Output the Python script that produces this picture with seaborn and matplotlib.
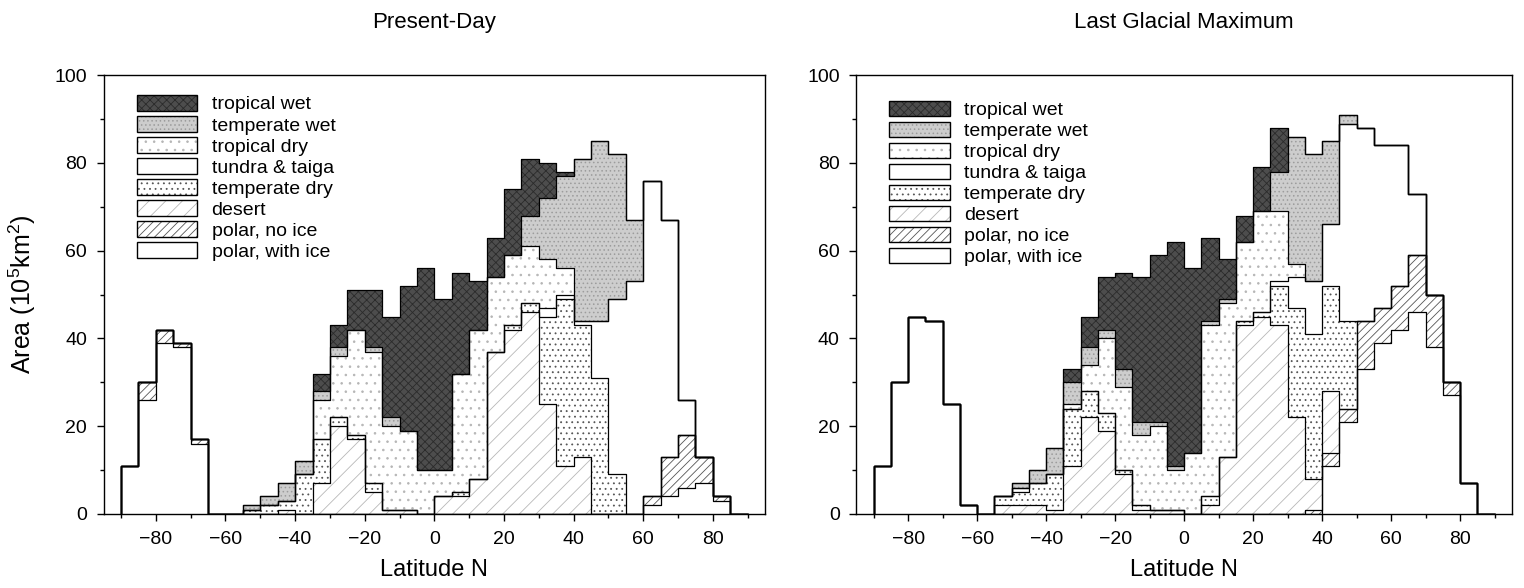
import numpy as np
import matplotlib
matplotlib.use("Agg")
import matplotlib.pyplot as plt
from matplotlib.patches import Patch
from matplotlib.ticker import MultipleLocator
import seaborn as sns

# === DATA: area per 5 degree latitude bin (left edges -90 ... 85), 10^5 km^2
# each list = thickness of the band in the stack, grouped 6 bins (30 deg) per row
lat_edges = np.arange(-90, 95, 5)

categories = ["polar, with ice", "polar, no ice", "desert", "temperate dry",
              "tundra & taiga", "tropical dry", "temperate wet", "tropical wet"]

pd_polar_ice = [11, 26, 39, 38, 16, 0,  0, 0, 0, 0, 0, 0,  0, 0, 0, 0, 0, 0,
                0, 0, 0, 0, 0, 0,  0, 0, 0, 0, 0, 0,  2, 4, 6, 7, 3, 0]
pd_polar_noice = [0, 4, 3, 1, 1, 0,  0, 0, 0, 0, 0, 0,  0, 0, 0, 0, 0, 0,
                  0, 0, 0, 0, 0, 0,  0, 0, 0, 0, 0, 0,  2, 9, 12, 6, 1, 0]
pd_desert = [0, 0, 0, 0, 0, 0,  0, 0, 0, 1, 0, 7,  20, 17, 5, 1, 1, 0,
             4, 4, 8, 37, 42, 46,  25, 11, 13, 0, 0, 0,  0, 0, 0, 0, 0, 0]
pd_temp_dry = [0, 0, 0, 0, 0, 0,  0, 1, 2, 2, 9, 10,  2, 1, 2, 0, 0, 0,
               0, 1, 0, 0, 1, 2,  20, 38, 30, 31, 9, 0,  0, 0, 0, 0, 0, 0]
pd_tundra = [0, 0, 0, 0, 0, 0,  0, 0, 0, 0, 0, 0,  0, 0, 0, 0, 0, 0,
             0, 0, 0, 0, 0, 0,  2, 1, 1, 13, 40, 53,  72, 54, 8, 0, 0, 0]
pd_trop_dry = [0, 0, 0, 0, 0, 0,  0, 0, 0, 0, 0, 9,  14, 24, 30, 19, 18, 10,
               6, 27, 34, 17, 16, 13,  11, 6, 0, 0, 0, 0,  0, 0, 0, 0, 0, 0]
pd_temp_wet = [0, 0, 0, 0, 0, 0,  0, 1, 2, 4, 3, 2,  2, 0, 1, 2, 0, 0,
               0, 0, 0, 0, 0, 7,  14, 21, 37, 41, 33, 14,  0, 0, 0, 0, 0, 0]
pd_trop_wet = [0, 0, 0, 0, 0, 0,  0, 0, 0, 0, 0, 4,  5, 9, 13, 23, 33, 46,
               39, 23, 11, 9, 15, 13,  8, 1, 0, 0, 0, 0,  0, 0, 0, 0, 0, 0]

lgm_polar_ice = [11, 30, 45, 44, 25, 2,  0, 0, 0, 0, 0, 0,  0, 0, 0, 0, 0, 0,
                 0, 0, 0, 0, 0, 0,  0, 0, 11, 21, 33, 39,  42, 46, 38, 27, 7, 0]
lgm_polar_noice = [0, 0, 0, 0, 0, 0,  0, 0, 0, 0, 0, 0,  0, 0, 0, 0, 0, 0,
                   0, 0, 0, 0, 0, 0,  0, 1, 3, 3, 11, 8,  10, 13, 12, 3, 0, 0]
lgm_desert = [0, 0, 0, 0, 0, 0,  0, 2, 2, 2, 1, 11,  22, 19, 9, 1, 1, 1,
              0, 2, 13, 43, 45, 43,  22, 7, 14, 0, 0, 0,  0, 0, 0, 0, 0, 0]
lgm_temp_dry = [0, 0, 0, 0, 0, 0,  0, 2, 3, 5, 8, 13,  6, 4, 1, 1, 0, 0,
                0, 2, 0, 1, 1, 9,  25, 33, 24, 20, 0, 0,  0, 0, 0, 0, 0, 0]
lgm_tundra = [0, 0, 0, 0, 0, 0,  0, 0, 1, 0, 0, 0,  0, 0, 0, 0, 0, 0,
              0, 0, 0, 0, 0, 1,  7, 12, 14, 45, 44, 37,  32, 14, 0, 0, 0, 0]
lgm_trop_dry = [0, 0, 0, 0, 0, 0,  0, 0, 0, 0, 0, 1,  6, 17, 19, 16, 19, 9,
                14, 39, 35, 18, 23, 16,  3, 0, 0, 0, 0, 0,  0, 0, 0, 0, 0, 0]
lgm_temp_wet = [0, 0, 0, 0, 0, 0,  0, 0, 1, 3, 6, 5,  4, 2, 4, 3, 1, 1,
                0, 1, 1, 0, 0, 9,  29, 29, 19, 2, 0, 0,  0, 0, 0, 0, 0, 0]
lgm_trop_wet = [0, 0, 0, 0, 0, 0,  0, 0, 0, 0, 0, 3,  7, 12, 22, 33, 38, 51,
                42, 19, 9, 6, 10, 10,  0, 0, 0, 0, 0, 0,  0, 0, 0, 0, 0, 0]

present_layers = [pd_polar_ice, pd_polar_noice, pd_desert, pd_temp_dry,
                  pd_tundra, pd_trop_dry, pd_temp_wet, pd_trop_wet]
lgm_layers = [lgm_polar_ice, lgm_polar_noice, lgm_desert, lgm_temp_dry,
              lgm_tundra, lgm_trop_dry, lgm_temp_wet, lgm_trop_wet]

# === STYLES (face, hatch colour, hatch)
styles = {
    "polar, with ice": ("white", "white", None),
    "polar, no ice": ("white", "#555555", "////"),
    "desert": ("white", "#b8b8b8", "//"),
    "temperate dry": ("white", "#555555", "..."),
    "tundra & taiga": ("white", "white", None),
    "tropical dry": ("white", "#b5b5b5", ".."),
    "temperate wet": ("#cdcdcd", "#9c9c9c", "...."),
    "tropical wet": ("#4d4d4d", "#2b2b2b", "xxxx"),
}

sns.set_style("ticks")
plt.rcParams["font.family"] = ["Liberation Sans", "DejaVu Sans"]
plt.rcParams["mathtext.fontset"] = "custom"
plt.rcParams["mathtext.rm"] = "Liberation Sans"
plt.rcParams["mathtext.it"] = "Liberation Sans:italic"
plt.rcParams["hatch.linewidth"] = 0.6
plt.rcParams["text.color"] = "black"
plt.rcParams["axes.labelcolor"] = "black"
plt.rcParams["xtick.color"] = "black"
plt.rcParams["ytick.color"] = "black"


def draw_panel(ax, layers, title, ylabel=None, legend_y=0.948):
    bottom = np.zeros(len(lat_edges) - 1)
    tops = []
    for name, vals in zip(categories, layers):
        top = bottom + np.asarray(vals, dtype=float)
        face, hcol, hatch = styles[name]
        ax.fill_between(lat_edges, np.append(bottom, bottom[-1]), np.append(top, top[-1]),
                        step="post", facecolor=face, edgecolor=hcol, hatch=hatch, linewidth=0)
        tops.append(top)
        bottom = top

    # === step outlines of every band
    for top in tops:
        xs = np.concatenate([[lat_edges[0]], lat_edges])
        ys = np.concatenate([[0.0], top, [top[-1]]])
        sns.lineplot(x=xs, y=ys, estimator=None, sort=False, drawstyle="steps-post",
                     color="black", linewidth=0.9, ax=ax, legend=False)

    ax.set_xlim(-95, 95)
    ax.set_ylim(0, 100)
    ax.xaxis.set_major_locator(MultipleLocator(20))
    ax.xaxis.set_minor_locator(MultipleLocator(10))
    ax.yaxis.set_major_locator(MultipleLocator(20))
    ax.yaxis.set_minor_locator(MultipleLocator(10))
    ax.tick_params(which="major", length=5, width=1, labelsize=14, pad=7,
                   color="black", labelcolor="black")
    ax.tick_params(which="minor", length=3, width=1, color="black")
    for sp in ax.spines.values():
        sp.set_visible(True)
        sp.set_linewidth(1.0)
        sp.set_color("black")

    ax.set_xlabel("Latitude N", fontsize=17, labelpad=8, color="black")
    if ylabel:
        ax.set_ylabel(ylabel, fontsize=18, labelpad=12, color="black")
    else:
        ax.set_ylabel("")
    ax.set_title(title, fontsize=16, pad=34, color="black")

    # === legend, top entry = top of the stack
    handles = []
    for name in reversed(categories):
        face, hcol, hatch = styles[name]
        handles.append((Patch(facecolor=face, edgecolor=hcol, hatch=hatch, linewidth=0),
                        Patch(facecolor="none", edgecolor="black", linewidth=1.0)))
    leg = ax.legend(handles, list(reversed(categories)), loc="upper left",
                    bbox_to_anchor=(0.05, legend_y), frameon=False, fontsize=14,
                    handlelength=3.1, handleheight=0.85, handletextpad=0.75,
                    labelspacing=0.13, borderpad=0, borderaxespad=0)
    for t in leg.get_texts():
        t.set_color("black")


fig = plt.figure(figsize=(15.24, 5.88), dpi=100)
ax1 = fig.add_axes([0.068, 0.126, 0.434, 0.746])
ax2 = fig.add_axes([0.562, 0.126, 0.430, 0.746])

draw_panel(ax1, present_layers, "Present-Day", ylabel="Area (10$^5$km$^2$)", legend_y=0.955)
draw_panel(ax2, lgm_layers, "Last Glacial Maximum", legend_y=0.942)

fig.savefig("out.png", dpi=100)
